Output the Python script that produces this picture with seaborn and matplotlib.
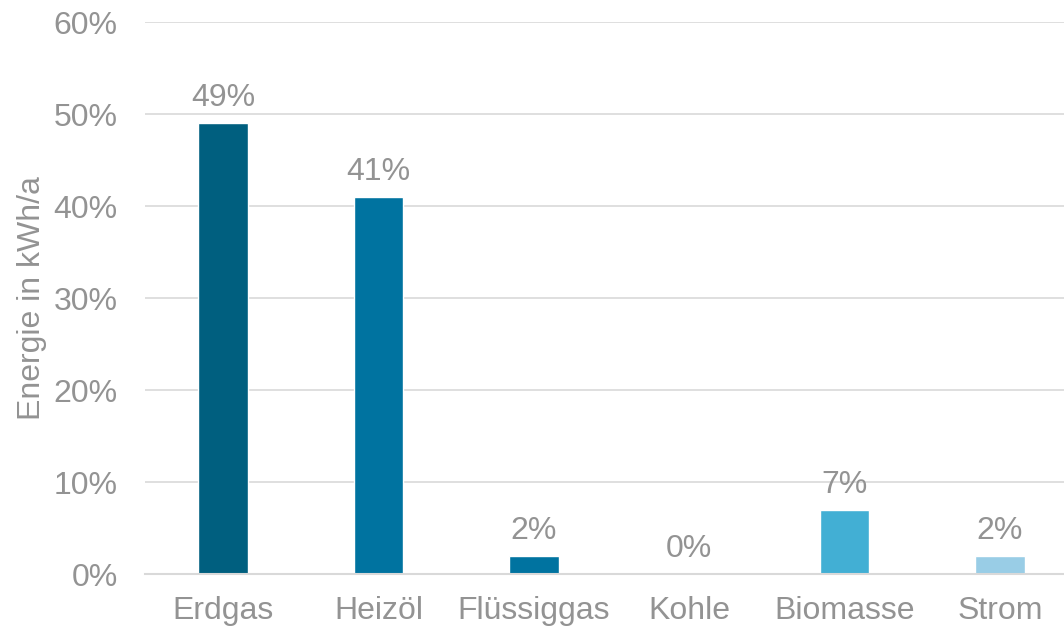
#! /usr/bin/env python3

"""Anteile der Energietraeger am Heizenergieverbrauch"""

import seaborn as sns
import matplotlib.pyplot as plt
import matplotlib.ticker as mticker
import pandas

traeger = ["Erdgas", "Heizöl", "Flüssiggas", "Kohle", "Biomasse", "Strom"]
anteil = [49, 41, 2, 0, 7, 2]
farben = ["#005F7F", "#0073A0", "#0073A0", "#0073A0", "#42AFD4", "#99CDE6"]

grau = "#939393"
fs = 23


def main():
    df = pandas.DataFrame({"traeger": traeger, "anteil": anteil})
    sns.set_style("white")
    plt.rcParams["font.family"] = ["Liberation Sans", "DejaVu Sans"]

    fig = plt.figure(figsize=(10.64, 6.29), dpi=100)
    ax = fig.add_axes([0.1366, 0.0874, 0.8763, 0.8776])
    sns.barplot(data=df, x="traeger", y="anteil", hue="traeger",
                palette=farben, legend=False, width=0.32, saturation=1, ax=ax)

    for cont in ax.containers:
        ax.bar_label(cont, fmt="%g%%", padding=7, fontsize=fs, color=grau)

    ax.set_ylim(0, 60)
    ax.set_xlim(-0.5, 5.5)
    ax.yaxis.set_major_locator(mticker.MultipleLocator(10))
    ax.yaxis.set_major_formatter(mticker.FuncFormatter(lambda v, p: f"{v:.0f}%"))
    ax.grid(axis="y", color="#D9D9D9", linewidth=1.2)
    ax.set_axisbelow(True)
    for s in ["top", "right", "left"]:
        ax.spines[s].set_visible(False)
    ax.spines["bottom"].set_color("#D9D9D9")
    ax.spines["bottom"].set_linewidth(1.5)
    ax.tick_params(axis="both", length=0, labelsize=fs, labelcolor=grau)
    ax.tick_params(axis="x", pad=16)
    ax.tick_params(axis="y", pad=20)
    ax.set_xlabel("")
    ax.set_ylabel("Energie in kWh/a", fontsize=fs, color=grau)
    ax.yaxis.set_label_coords(-0.106, 0.5)

    fig.savefig("out.png", dpi=100)


if __name__ == "__main__":
    main()
